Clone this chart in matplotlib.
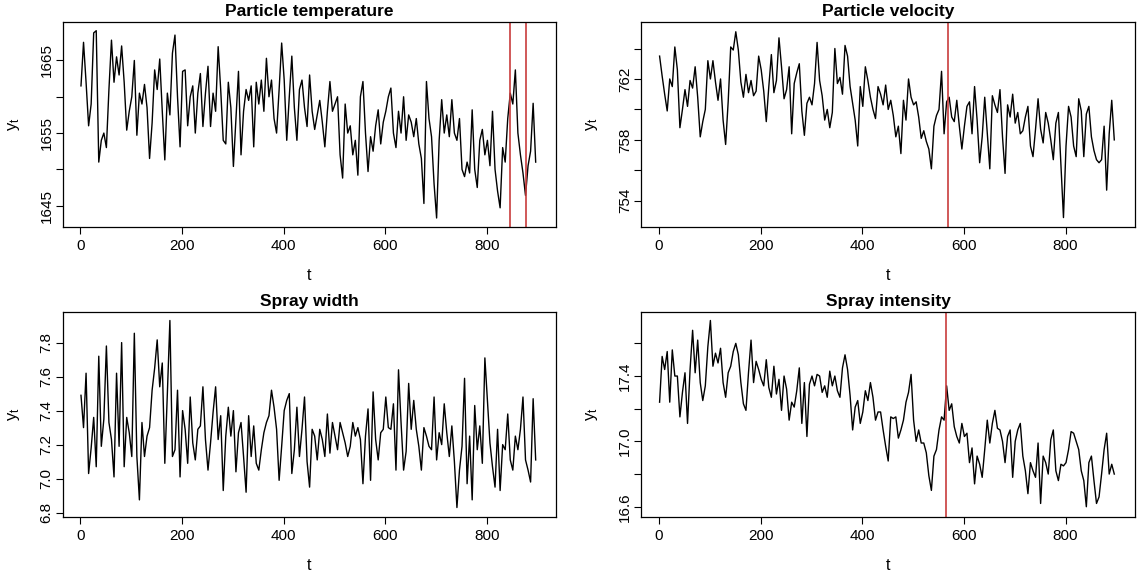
import numpy as np
import matplotlib.pyplot as plt

plt.rcParams['font.family'] = ['Liberation Sans', 'DejaVu Sans']
plt.rcParams['mathtext.default'] = 'regular'

# values every 5th time step (t = 1, 6, 11, ...)
step = 5

temperature = [
    1661.5, 1667.5, 1662.0, 1656.0, 1659.0, 1668.8, 1669.1, 1651.0, 1654.0, 1655.0,
    1653.0, 1661.0, 1667.8, 1662.0, 1665.5, 1663.0, 1667.0, 1662.0, 1655.4, 1658.0,
    1660.0, 1665.0, 1654.7, 1660.5, 1659.0, 1661.7, 1658.5, 1651.5, 1656.4, 1663.7,
    1661.0, 1665.2, 1658.0, 1651.3, 1660.5, 1657.5, 1666.0, 1668.5, 1660.0, 1653.1,
    1663.5, 1663.7, 1656.0, 1660.0, 1661.5, 1655.0, 1660.5, 1663.2, 1655.9, 1660.5,
    1664.2, 1655.9, 1660.5, 1658.0, 1666.9, 1661.0, 1654.0, 1653.5, 1662.0, 1658.5,
    1650.4, 1657.0, 1663.5, 1652.0, 1658.0, 1661.0, 1659.5, 1661.5, 1653.1, 1662.0,
    1659.0, 1662.3, 1658.0, 1665.3, 1660.0, 1662.3, 1657.0, 1655.0, 1661.0, 1667.4,
    1662.3, 1654.0, 1660.0, 1665.6, 1658.5, 1654.0, 1661.0, 1662.3, 1658.5, 1655.9,
    1663.0, 1658.0, 1655.5, 1657.5, 1659.5, 1656.5, 1653.1, 1658.0, 1662.1, 1658.0,
    1659.0, 1660.0, 1652.0, 1648.8, 1659.0, 1655.0, 1656.0, 1652.0, 1654.0, 1649.2,
    1660.0, 1662.1, 1655.0, 1649.7, 1654.5, 1652.5, 1656.0, 1658.2, 1653.5, 1656.5,
    1658.0, 1660.0, 1661.2, 1655.0, 1653.0, 1658.0, 1655.0, 1660.0, 1654.0, 1657.5,
    1656.5, 1654.5, 1657.0, 1653.5, 1651.5, 1645.3, 1662.1, 1657.0, 1654.5, 1648.0,
    1643.3, 1654.0, 1659.6, 1655.0, 1657.5, 1654.5, 1659.6, 1655.0, 1654.0, 1657.0,
    1650.0, 1649.0, 1651.0, 1649.5, 1658.2, 1650.0, 1647.5, 1654.0, 1655.5, 1652.0,
    1654.0, 1650.5, 1658.0, 1650.0, 1647.0, 1644.7, 1653.0, 1651.0, 1657.0, 1660.5,
    1659.0, 1663.7, 1655.0, 1652.0, 1649.5, 1646.4, 1650.5, 1652.5, 1659.1, 1651.0,
]

velocity = [
    763.5, 762.2, 761.0, 759.9, 762.0, 761.5, 764.1, 762.6, 758.8, 760.0,
    761.3, 760.2, 761.9, 761.4, 762.8, 760.8, 758.2, 759.2, 760.0, 763.2,
    762.0, 763.2, 761.8, 760.6, 762.0, 759.3, 757.7, 760.5, 764.1, 763.9,
    765.1, 763.9, 761.8, 760.8, 762.3, 761.1, 761.9, 760.9, 761.2, 763.5,
    762.6, 761.2, 759.2, 761.5, 763.6, 761.1, 761.9, 764.7, 762.8, 760.7,
    761.3, 762.8, 758.4, 761.7, 762.4, 763.0, 759.9, 758.3, 760.4, 760.8,
    760.3, 761.7, 764.4, 761.9, 760.9, 759.3, 760.0, 758.8, 759.8, 764.0,
    761.7, 762.1, 761.0, 764.2, 763.5, 761.5, 760.4, 759.3, 757.6, 761.5,
    760.2, 762.8, 761.9, 760.8, 760.0, 759.4, 761.5, 761.0, 760.3, 761.6,
    760.0, 760.6, 759.6, 758.2, 758.9, 757.1, 760.6, 759.3, 762.0, 760.8,
    760.3, 760.5, 759.5, 758.1, 758.6, 757.9, 757.4, 756.1, 758.9, 759.6,
    760.0, 762.5, 758.4, 760.5, 760.8, 759.5, 759.2, 760.6, 758.9, 757.4,
    758.9, 760.2, 760.5, 758.4, 761.5, 759.3, 756.5, 758.2, 760.8, 758.4,
    756.1, 760.9, 760.3, 759.8, 761.3, 758.2, 755.8, 760.3, 759.5, 761.0,
    759.1, 759.8, 758.4, 758.6, 759.5, 760.2, 757.6, 756.9, 758.7, 760.7,
    758.7, 757.8, 759.8, 759.1, 758.0, 756.7, 759.1, 759.8, 756.3, 752.9,
    757.6, 760.2, 759.5, 757.6, 756.9, 760.7, 759.9, 756.9, 759.7, 760.2,
    758.2, 757.3, 756.7, 756.5, 756.7, 758.9, 754.7, 758.4, 760.6, 758.0,
]

spray_width = [
    7.49, 7.30, 7.62, 7.03, 7.18, 7.36, 7.07, 7.72, 7.19, 7.35,
    7.78, 7.33, 7.23, 7.01, 7.62, 7.19, 7.80, 7.07, 7.36, 7.27,
    7.13, 7.855, 7.13, 6.875, 7.33, 7.13, 7.25, 7.30, 7.52, 7.65,
    7.816, 7.54, 7.68, 7.09, 7.50, 7.93, 7.13, 7.17, 7.52, 7.01,
    7.40, 7.29, 7.09, 7.48, 7.21, 7.11, 7.29, 7.31, 7.54, 7.23,
    7.05, 7.21, 7.39, 7.54, 7.23, 7.37, 6.93, 7.25, 7.42, 7.25,
    7.40, 7.04, 7.27, 7.33, 7.13, 6.92, 7.37, 7.13, 7.31, 7.09,
    7.05, 7.17, 7.27, 7.33, 7.37, 7.52, 7.42, 7.29, 6.99, 7.19,
    7.40, 7.46, 7.50, 7.03, 7.17, 7.42, 7.13, 7.29, 7.48, 7.10,
    6.95, 7.29, 7.25, 7.11, 7.29, 7.23, 7.13, 7.38, 7.15, 7.33,
    7.25, 7.17, 7.33, 7.27, 7.21, 7.13, 7.19, 7.33, 7.25, 7.30,
    7.23, 6.97, 7.25, 7.41, 6.99, 7.51, 7.23, 7.11, 7.27, 7.29,
    7.48, 7.30, 7.29, 7.44, 7.05, 7.64, 7.33, 7.05, 7.16, 7.56,
    7.29, 7.46, 7.29, 7.19, 7.05, 7.30, 7.25, 7.19, 7.17, 7.48,
    7.11, 7.27, 7.20, 7.44, 7.27, 7.13, 7.31, 7.10, 6.83, 7.05,
    7.19, 7.59, 6.97, 7.25, 6.875, 7.43, 7.17, 7.31, 7.09, 7.71,
    7.46, 7.21, 7.07, 6.95, 7.29, 6.93, 7.20, 7.17, 7.38, 7.11,
    7.05, 7.25, 7.17, 7.29, 7.48, 7.11, 7.05, 6.98, 7.47, 7.11,
]

intensity = [
    17.24, 17.52, 17.44, 17.55, 17.24, 17.56, 17.40, 17.40, 17.15, 17.30,
    17.42, 17.11, 17.44, 17.68, 17.42, 17.62, 17.36, 17.25, 17.34, 17.58,
    17.74, 17.46, 17.54, 17.48, 17.57, 17.36, 17.27, 17.42, 17.46, 17.55,
    17.60, 17.53, 17.36, 17.23, 17.19, 17.42, 17.62, 17.36, 17.49, 17.44,
    17.38, 17.34, 17.50, 17.33, 17.27, 17.46, 17.29, 17.38, 17.19, 17.40,
    17.32, 17.13, 17.24, 17.21, 17.31, 17.45, 17.11, 17.36, 17.03, 17.35,
    17.40, 17.34, 17.41, 17.40, 17.30, 17.34, 17.27, 17.43, 17.34, 17.40,
    17.31, 17.27, 17.45, 17.53, 17.44, 17.28, 17.07, 17.21, 17.25, 17.11,
    17.18, 17.31, 17.25, 17.36, 17.27, 17.13, 17.18, 17.18, 17.07, 16.97,
    16.88, 17.15, 17.14, 17.15, 17.02, 17.07, 17.13, 17.24, 17.30, 17.41,
    17.13, 17.00, 17.07, 16.99, 16.99, 16.93, 16.79, 16.70, 16.91, 16.95,
    17.07, 17.15, 17.13, 17.34, 17.19, 17.23, 17.09, 17.03, 16.99, 17.11,
    17.03, 17.05, 16.87, 16.96, 16.74, 16.91, 16.86, 16.78, 16.95, 17.13,
    16.99, 17.11, 17.19, 17.08, 17.07, 17.00, 16.87, 17.03, 17.07, 16.78,
    17.00, 17.07, 17.11, 16.91, 16.82, 16.68, 16.87, 16.82, 16.78, 16.99,
    16.62, 16.91, 16.87, 16.80, 17.01, 17.07, 16.82, 16.76, 16.86, 16.85,
    16.87, 16.95, 17.06, 17.05, 17.00, 16.95, 16.82, 16.76, 16.60, 16.87,
    16.91, 16.76, 16.62, 16.66, 16.80, 16.95, 17.05, 16.80, 16.86, 16.80,
]

titles = ['Particle temperature', 'Particle velocity', 'Spray width', 'Spray intensity']
series = [temperature, velocity, spray_width, intensity]
change_points = [[845, 876], [569], [], [564]]

xticks = [0, 200, 400, 600, 800]
yticks = [
    [1645, 1650, 1655, 1660, 1665],
    [754, 756, 758, 760, 762, 764],
    [6.8, 7.0, 7.2, 7.4, 7.6, 7.8],
    [16.6, 16.8, 17.0, 17.2, 17.4, 17.6],
]
ylabels = [
    ['1645', '', '1655', '', '1665'],
    ['754', '', '758', '', '762', ''],
    ['6.8', '7.0', '7.2', '7.4', '7.6', '7.8'],
    ['16.6', '', '17.0', '', '17.4', ''],
]
ylims = [(1642.1, 1670.3), (752.3, 765.74), (6.776, 7.98), (16.539, 17.792)]

W, H = 1139, 581
boxes = [(62.7, 22), (641.3, 22), (62.7, 312), (641.3, 312)]
bw, bh = 493.3, 204.7

fig = plt.figure(figsize=(W / 100, H / 100), dpi=100)

for i in range(4):
    x0, y0 = boxes[i]
    ax = fig.add_axes([x0 / W, 1 - (y0 + bh) / H, bw / W, bh / H])
    y = np.array(series[i])
    t = 1 + step * np.arange(len(y))
    ax.plot(t, y, color='black', lw=1.0)
    for cp in change_points[i]:
        ax.axvline(cp, color='#c83c3c', lw=1.2)
    ax.set_xlim(-35, 936)
    ax.set_ylim(*ylims[i])
    ax.set_xticks(xticks)
    ax.set_xticklabels([str(v) for v in xticks], fontsize=11)
    ax.set_yticks(yticks[i])
    ax.set_yticklabels(ylabels[i], rotation=90, va='center', fontsize=11)
    ax.tick_params(axis='x', length=5, width=0.8, pad=3.5)
    ax.tick_params(axis='y', length=5, width=0.8, pad=1.5)
    for s in ax.spines.values():
        s.set_linewidth(0.9)
    ax.set_title(titles[i], fontweight='bold', fontsize=12.5, pad=4.5)
    ax.set_xlabel('t', fontsize=11.5, va='center')
    ax.xaxis.set_label_coords(0.5, -0.24)
    ax.set_ylabel('$y_t$', fontsize=12, va='center')
    ax.yaxis.set_label_coords(-0.099, 0.5)

fig.savefig('out.png', dpi=100)
